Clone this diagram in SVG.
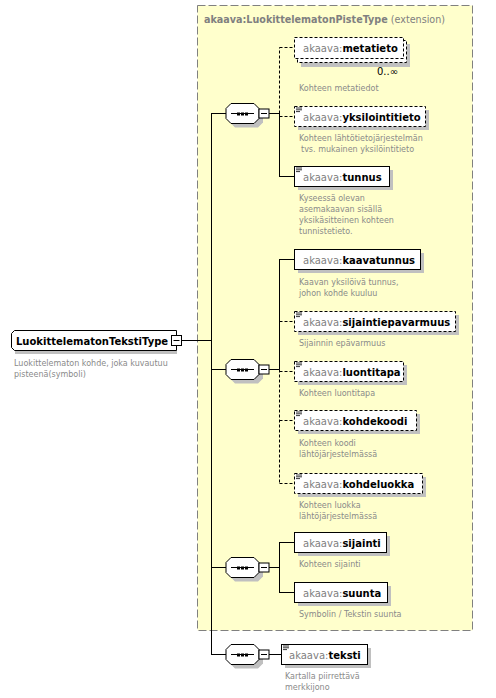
<svg xmlns="http://www.w3.org/2000/svg" xmlns:xlink="http://www.w3.org/1999/xlink" width="496" height="698" viewBox="0 0 496 698">
<style>
.bg{fill:#fff}
.sh{fill:#c0c0c0}
.box{fill:#fff;stroke:#000;stroke-width:1}
.opt{stroke-dasharray:3,2}
.lbl{font-family:"DejaVu Sans",Verdana,sans-serif;font-size:10px}
.ns{fill:#808080}
.nm{fill:#000;font-weight:bold}
.desc{font-family:"DejaVu Sans",Verdana,sans-serif;font-size:8px;fill:#8a8a8a}
.ln{fill:none;stroke:#000;stroke-width:1}
.dl{fill:none;stroke:#000;stroke-width:1;stroke-dasharray:3,2}
.ic{stroke:#000;stroke-width:0.8}
</style>
<defs>
<g id="seq">
<polygon class="sh" points="9,4 32,4 37,9 37,19 32,24 9,24 4,19 4,9"/>
<polygon class="box" points="5,0 28,0 33,5 33,15 28,20 5,20 0,15 0,5"/>
<line x1="5" y1="10" x2="28" y2="10" stroke="#000" stroke-width="1"/>
<rect x="11" y="9" width="3" height="3" fill="#000"/>
<rect x="15" y="9" width="3" height="3" fill="#000"/>
<rect x="19" y="9" width="3" height="3" fill="#000"/>
<rect class="box" x="33" y="5.5" width="10" height="9"/>
<line x1="35" y1="10" x2="41" y2="10" stroke="#000" stroke-width="1"/>
</g>
<g id="icon">
<line class="ic" x1="2" y1="2" x2="8" y2="2"/>
<line class="ic" x1="2" y1="3.8" x2="8" y2="3.8"/>
<line class="ic" x1="2" y1="5.6" x2="6" y2="5.6"/>
</g>
</defs>
<rect class="bg" x="0" y="0" width="496" height="698"/>

<g id="extension">
<rect x="197.5" y="5.5" width="275" height="625" fill="#ffffcc" stroke="#808080" stroke-width="1" stroke-dasharray="8,3"/>
<text x="204" y="23" font-family="DejaVu Sans,Verdana,sans-serif" font-size="9.6px" fill="#808080"><tspan font-weight="bold">akaava:LuokittelematonPisteType</tspan> (extension)</text>
</g>

<g id="connectors">
<line class="ln" x1="182" y1="340.5" x2="211.5" y2="340.5"/>
<line class="ln" x1="211.5" y1="113.5" x2="211.5" y2="654.5"/>
<line class="ln" x1="211" y1="113.5" x2="226" y2="113.5"/>
<line class="ln" x1="211" y1="369.5" x2="226" y2="369.5"/>
<line class="ln" x1="211" y1="567.5" x2="226" y2="567.5"/>
<line class="ln" x1="211" y1="654.5" x2="226" y2="654.5"/>
<line class="ln" x1="269" y1="113.5" x2="279.5" y2="113.5"/>
<line class="dl" x1="279.5" y1="113.5" x2="279.5" y2="47.5"/>
<line class="dl" x1="279.5" y1="47.5" x2="294" y2="47.5"/>
<line class="dl" x1="279.5" y1="116.5" x2="294" y2="116.5"/>
<line class="ln" x1="279.5" y1="113" x2="279.5" y2="176.5"/>
<line class="ln" x1="279" y1="176.5" x2="294" y2="176.5"/>
<line class="ln" x1="269" y1="369.5" x2="279.5" y2="369.5"/>
<line class="ln" x1="279.5" y1="259.5" x2="279.5" y2="369.5"/>
<line class="ln" x1="279" y1="259.5" x2="294" y2="259.5"/>
<line class="dl" x1="279.5" y1="369.5" x2="279.5" y2="483.5"/>
<line class="dl" x1="279.5" y1="321.5" x2="294" y2="321.5"/>
<line class="dl" x1="279.5" y1="371.5" x2="294" y2="371.5"/>
<line class="dl" x1="279.5" y1="420.5" x2="294" y2="420.5"/>
<line class="dl" x1="279.5" y1="483.5" x2="294" y2="483.5"/>
<line class="ln" x1="269" y1="567.5" x2="279.5" y2="567.5"/>
<line class="ln" x1="279.5" y1="542.5" x2="279.5" y2="592.5"/>
<line class="ln" x1="279" y1="542.5" x2="294" y2="542.5"/>
<line class="ln" x1="279" y1="592.5" x2="294" y2="592.5"/>
<line class="ln" x1="269" y1="654.5" x2="281" y2="654.5"/>
</g>

<g id="root">
<rect class="sh" x="15" y="334" width="162" height="20"/>
<path class="box" d="M14.5,330.5 H176.5 V350.5 H14.5 L11.5,347.5 V333.5 Z"/>
<rect class="box" x="171.5" y="335.5" width="10" height="10"/>
<line x1="173.5" y1="340.5" x2="179.5" y2="340.5" stroke="#000"/>
<text class="lbl nm" x="16" y="344.5">LuokittelematonTekstiType</text>
<text class="desc" x="14" y="366">Luokittelematon kohde, joka kuvautuu</text>
<text class="desc" x="14" y="377">pisteenä(symboli)</text>
</g>

<g id="seq1"><use xlink:href="#seq" x="226" y="103.5"/></g>
<g id="seq2"><use xlink:href="#seq" x="226" y="359.5"/></g>
<g id="seq3"><use xlink:href="#seq" x="226" y="557.5"/></g>
<g id="seq4"><use xlink:href="#seq" x="226" y="644.5"/></g>

<g id="metatieto">
<rect class="sh" x="301" y="44" width="109" height="23"/>
<rect class="box opt" x="297.5" y="40.5" width="109" height="22"/>
<rect class="box opt" x="294.5" y="37.5" width="109" height="21"/>
<text class="lbl" x="303" y="52"><tspan class="ns">akaava:</tspan><tspan class="nm">metatieto</tspan></text>
<text x="398" y="75" text-anchor="end" font-family="DejaVu Sans,Verdana,sans-serif" font-size="10px" fill="#000">0..∞</text>
<text class="desc" x="299" y="91">Kohteen metatiedot</text>
</g>

<g id="yksilointitieto">
<rect class="sh" x="298" y="110" width="131" height="20"/>
<rect class="box opt" x="294.5" y="106.5" width="131" height="20"/>
<use xlink:href="#icon" x="294" y="106"/>
<text class="lbl" x="303" y="121"><tspan class="ns">akaava:</tspan><tspan class="nm">yksilointitieto</tspan></text>
<text class="desc" x="299" y="141">Kohteen lähtötietojärjestelmän</text>
<text class="desc" x="301" y="152">tvs. mukainen yksilöintitieto</text>
</g>

<g id="tunnus">
<rect class="sh" x="298" y="170" width="95" height="20"/>
<rect class="box" x="294.5" y="166.5" width="95" height="20"/>
<use xlink:href="#icon" x="294" y="166"/>
<text class="lbl" x="303" y="181"><tspan class="ns">akaava:</tspan><tspan class="nm">tunnus</tspan></text>
<text class="desc" x="299" y="201">Kyseessä olevan</text>
<text class="desc" x="299" y="212">asemakaavan sisällä</text>
<text class="desc" x="299" y="223">yksikäsitteinen kohteen</text>
<text class="desc" x="299" y="234">tunnistetieto.</text>
</g>

<g id="kaavatunnus">
<rect class="sh" x="298" y="253" width="126" height="20"/>
<rect class="box" x="294.5" y="249.5" width="126" height="20"/>
<text class="lbl" x="303" y="264"><tspan class="ns">akaava:</tspan><tspan class="nm">kaavatunnus</tspan></text>
<text class="desc" x="299" y="285">Kaavan yksilöivä tunnus,</text>
<text class="desc" x="299" y="296">johon kohde kuuluu</text>
</g>

<g id="sijaintiepavarmuus">
<rect class="sh" x="298" y="315" width="161" height="20"/>
<rect class="box opt" x="294.5" y="311.5" width="161" height="20"/>
<use xlink:href="#icon" x="294" y="311"/>
<text class="lbl" x="303" y="326"><tspan class="ns">akaava:</tspan><tspan class="nm">sijaintiepavarmuus</tspan></text>
<text class="desc" x="299" y="346">Sijainnin epävarmuus</text>
</g>

<g id="luontitapa">
<rect class="sh" x="298" y="365" width="109" height="20"/>
<rect class="box opt" x="294.5" y="361.5" width="109" height="20"/>
<use xlink:href="#icon" x="294" y="361"/>
<text class="lbl" x="303" y="376"><tspan class="ns">akaava:</tspan><tspan class="nm">luontitapa</tspan></text>
<text class="desc" x="299" y="396">Kohteen luontitapa</text>
</g>

<g id="kohdekoodi">
<rect class="sh" x="298" y="414" width="122" height="20"/>
<rect class="box opt" x="294.5" y="410.5" width="122" height="20"/>
<use xlink:href="#icon" x="294" y="410"/>
<text class="lbl" x="303" y="425"><tspan class="ns">akaava:</tspan><tspan class="nm">kohdekoodi</tspan></text>
<text class="desc" x="299" y="446">Kohteen koodi</text>
<text class="desc" x="299" y="457">lähtöjärjestelmässä</text>
</g>

<g id="kohdeluokka">
<rect class="sh" x="298" y="477" width="128" height="20"/>
<rect class="box opt" x="294.5" y="473.5" width="128" height="20"/>
<use xlink:href="#icon" x="294" y="473"/>
<text class="lbl" x="303" y="488"><tspan class="ns">akaava:</tspan><tspan class="nm">kohdeluokka</tspan></text>
<text class="desc" x="299" y="508">Kohteen luokka</text>
<text class="desc" x="299" y="519">lähtöjärjestelmässä</text>
</g>

<g id="sijainti">
<rect class="sh" x="298" y="536" width="92" height="20"/>
<rect class="box" x="294.5" y="532.5" width="92" height="20"/>
<text class="lbl" x="303" y="547"><tspan class="ns">akaava:</tspan><tspan class="nm">sijainti</tspan></text>
<text class="desc" x="299" y="567">Kohteen sijainti</text>
</g>

<g id="suunta">
<rect class="sh" x="298" y="586" width="93" height="20"/>
<rect class="box" x="294.5" y="582.5" width="93" height="20"/>
<text class="lbl" x="303" y="597"><tspan class="ns">akaava:</tspan><tspan class="nm">suunta</tspan></text>
<text class="desc" x="299" y="617">Symbolin / Tekstin suunta</text>
</g>

<g id="teksti">
<rect class="sh" x="285" y="648" width="86" height="20"/>
<rect class="box" x="281.5" y="644.5" width="86" height="20"/>
<use xlink:href="#icon" x="281" y="644"/>
<text class="lbl" x="289" y="659"><tspan class="ns">akaava:</tspan><tspan class="nm">teksti</tspan></text>
<text class="desc" x="285" y="679">Kartalla piirrettävä</text>
<text class="desc" x="285" y="690">merkkijono</text>
</g>
</svg>
